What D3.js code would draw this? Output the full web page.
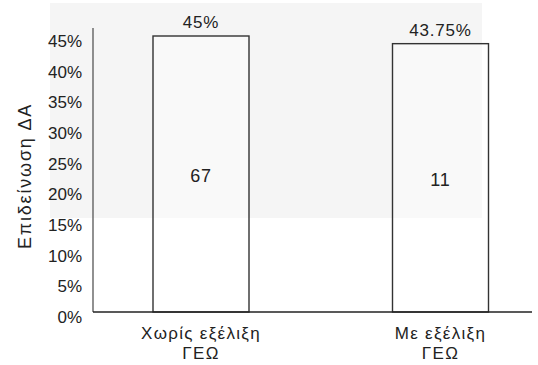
<!DOCTYPE html>
<html>
<head>
<meta charset="utf-8">
<script src="https://cdn.jsdelivr.net/npm/d3@7"></script>
<style>
  html, body { margin: 0; padding: 0; background: #fff; }
  svg { display: block; }
  text { font-family: "Liberation Sans", Arial, sans-serif; fill: #222; }
</style>
</head>
<body>
<svg id="chart" width="538" height="365"></svg>
<script>
// Chart data
const categories = ["Χωρίς εξέλιξη\nΓΕΩ", "Με εξέλιξη\nΓΕΩ"];
const rates = [45, 43.75];          // percent
const valueLabels = ["45%", "43.75%"];
const counts = [67, 11];
const yTicks = [0, 5, 10, 15, 20, 25, 30, 35, 40, 45];
const yTitle = "Επιδείνωση ΔΑ";

const svg = d3.select("#chart");

const axisX = 93, baseY = 312, topY = 36, rightX = 532;
const barW = 96;

const y = d3.scaleLinear().domain([0, 45]).range([baseY, topY]);
const x = d3.scalePoint().domain(categories).range([201, 440.5]);

// soft grey backdrop behind the upper part of the plot
svg.append("rect")
  .attr("x", 50).attr("y", 3)
  .attr("width", 432).attr("height", 215)
  .attr("fill", "#f5f5f5");

// bars
svg.selectAll("rect.bar")
  .data(categories)
  .join("rect")
  .attr("class", "bar")
  .attr("x", d => x(d) - barW / 2)
  .attr("y", (d, i) => y(rates[i]))
  .attr("width", barW)
  .attr("height", (d, i) => baseY - y(rates[i]))
  .attr("fill", "#fff")
  .attr("fill-opacity", 0.4)
  .attr("stroke", "#333")
  .attr("stroke-width", 1.4);

// y axis: line plus percent labels
const yAxis = d3.axisLeft(y)
  .tickValues(yTicks)
  .tickFormat(d => d + "%")
  .tickSize(0)
  .tickPadding(11);

const gy = svg.append("g")
  .attr("transform", `translate(${axisX},0)`)
  .call(yAxis);
gy.select(".domain").remove();
gy.selectAll("text")
  .attr("dy", "0.62em")
  .style("font-size", "17px")
  .style("font-family", "'Liberation Sans', Arial, sans-serif")
  .attr("fill", "#222");

svg.append("line")
  .attr("x1", axisX).attr("x2", axisX)
  .attr("y1", 28).attr("y2", baseY)
  .attr("stroke", "#555").attr("stroke-width", 1.3);

// baseline
svg.append("line")
  .attr("x1", axisX).attr("x2", rightX)
  .attr("y1", baseY).attr("y2", baseY)
  .attr("stroke", "#222").attr("stroke-width", 1.5);

// value labels above bars
svg.selectAll("text.val")
  .data(categories)
  .join("text")
  .attr("class", "val")
  .attr("x", d => x(d))
  .attr("y", (d, i) => y(rates[i]) - 8)
  .attr("text-anchor", "middle")
  .style("font-size", "17px")
  .style("letter-spacing", "0.8px")
  .text((d, i) => valueLabels[i]);

// counts inside bars
svg.selectAll("text.count")
  .data(categories)
  .join("text")
  .attr("class", "count")
  .attr("x", d => x(d))
  .attr("y", (d, i) => (y(rates[i]) + baseY) / 2 + 8)
  .attr("text-anchor", "middle")
  .style("font-size", "18px")
  .style("letter-spacing", "0.8px")
  .text((d, i) => counts[i]);

// category labels (two lines)
svg.selectAll("text.cat")
  .data(categories)
  .join("text")
  .attr("class", "cat")
  .attr("text-anchor", "middle")
  .style("font-size", "17px")
  .style("letter-spacing", "1.3px")
  .each(function (d) {
    const t = d3.select(this);
    d.split("\n").forEach((line, k) => {
      t.append("tspan")
        .attr("x", x(d))
        .attr("y", 339 + k * 20)
        .text(line);
    });
  });

// y axis title
svg.append("text")
  .attr("transform", "translate(31,176) rotate(-90)")
  .attr("text-anchor", "middle")
  .style("font-size", "18px")
  .style("letter-spacing", "1.8px")
  .text(yTitle);
</script>
</body>
</html>
